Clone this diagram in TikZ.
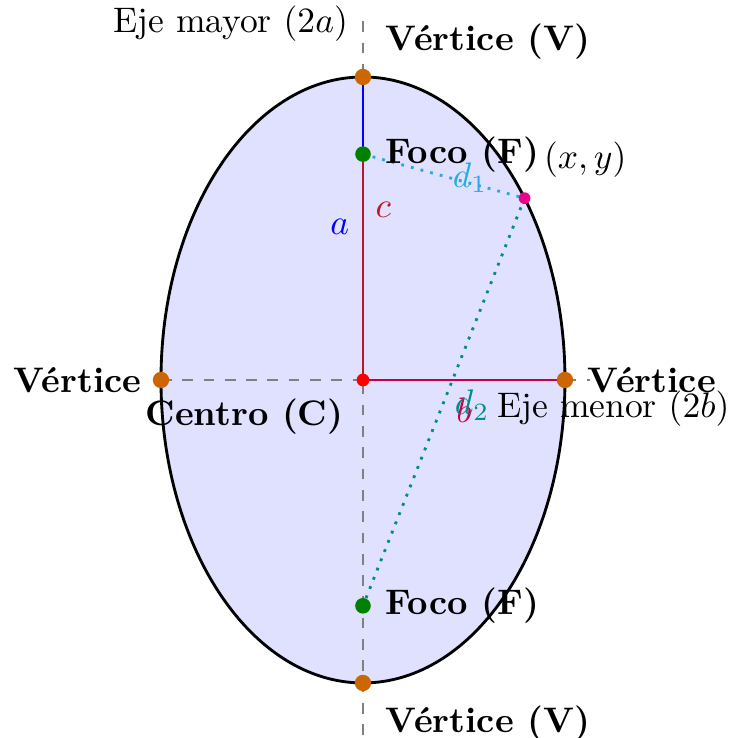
\documentclass[tikz,border=0pt]{standalone}
\usepackage{amsmath}
\usepackage{amssymb}
\usepackage{tikz}

\definecolor{vertcol}{RGB}{204,102,0}
\definecolor{focol}{RGB}{0,128,0}
\definecolor{dunocol}{RGB}{40,170,230}
\definecolor{ddoscol}{RGB}{0,140,140}
\definecolor{bcol}{RGB}{200,0,70}
\definecolor{ccol}{RGB}{190,20,40}

\begin{document}
\begin{tikzpicture}[
  pt/.style={circle,fill=#1,inner sep=0pt,minimum size=4.6pt},
  eje/.style={dashed,gray},
]
  \useasboundingbox (-3.594,-3.545) rectangle (3.634,3.762);

  % puntos de la elipse (b=2, a=3, c=sqrt 5)
  \coordinate (C) at (0,0);
  \coordinate (Varr) at (0,3);
  \coordinate (Vab) at (0,-3);
  \coordinate (Vizq) at (-2,0);
  \coordinate (Vder) at (2,0);
  \coordinate (Farr) at (0,2.236);
  \coordinate (Fab) at (0,-2.236);
  \coordinate (P) at (1.6,1.8);
  \coordinate (ejeA1) at (0,3.55);
  \coordinate (ejeA2) at (0,-3.55);
  \coordinate (ejeB) at (2.25,0);

  \fill[blue!12] (C) ellipse (2 and 3);

  % ejes
  \draw[eje] (ejeA1) -- (ejeA2);
  \draw[eje,semithick] (Vizq) -- (ejeB);

  % semiejes
  \draw[blue] (C) -- (Varr);
  \draw[ccol] (C) -- (Farr);
  \draw[bcol,semithick] (C) -- (Vder);

  % distancias focales
  \draw[dunocol,thick,dotted] (Farr) -- (P);
  \draw[ddoscol,thick,dotted] (P) -- (Fab);

  \draw[thick] (C) ellipse (2 and 3);

  \node[pt=vertcol] (v1) at (Varr) {};
  \node[pt=vertcol] (v2) at (Vab) {};
  \node[pt=vertcol] (v3) at (Vizq) {};
  \node[pt=vertcol] (v4) at (Vder) {};
  \node[pt=focol,minimum size=4.4pt] (f1) at (Farr) {};
  \node[pt=focol,minimum size=4.4pt] (f2) at (Fab) {};
  \node[pt=red,minimum size=3.6pt] (c0) at (C) {};
  \node[pt=magenta,minimum size=3.3pt] (p0) at (P) {};

  \node[anchor=south west,font=\bfseries] (tv1) at (0.1,3.05) {V\'ertice (V)};
  \node[anchor=north west,font=\bfseries] (tv2) at (0.1,-3.1) {V\'ertice (V)};
  \node[anchor=east,font=\bfseries] (tv3) at (-2.07,0) {V\'ertice};
  \node[anchor=west,font=\bfseries] (tv4) at (2.1,0) {V\'ertice};
  \node[anchor=west,font=\bfseries] (tf1) at (0.1,2.236) {Foco (F)};
  \node[anchor=west,font=\bfseries] (tf2) at (0.1,-2.236) {Foco (F)};
  \node[anchor=north east,font=\bfseries] (tc) at (-0.07,-0.06) {Centro (C)};
  \node (tp) at (2.2,2.18) {$(x,y)$};

  \node (ta) at (2.48,-0.28) {Eje menor $(2b)$};
  \node (tb) at (-1.31,3.53) {Eje mayor $(2a)$};

  \node[blue] (la) at (-0.23,1.52) {$a$};
  \node[ccol] (lc) at (0.2,1.68) {$c$};
  \node[bcol] (lb) at (1.0,-0.3) {$b$};
  \node[dunocol] (ld1) at (1.06,2.0) {$d_1$};
  \node[ddoscol] (ld2) at (1.08,-0.25) {$d_2$};
\end{tikzpicture}
\end{document}
